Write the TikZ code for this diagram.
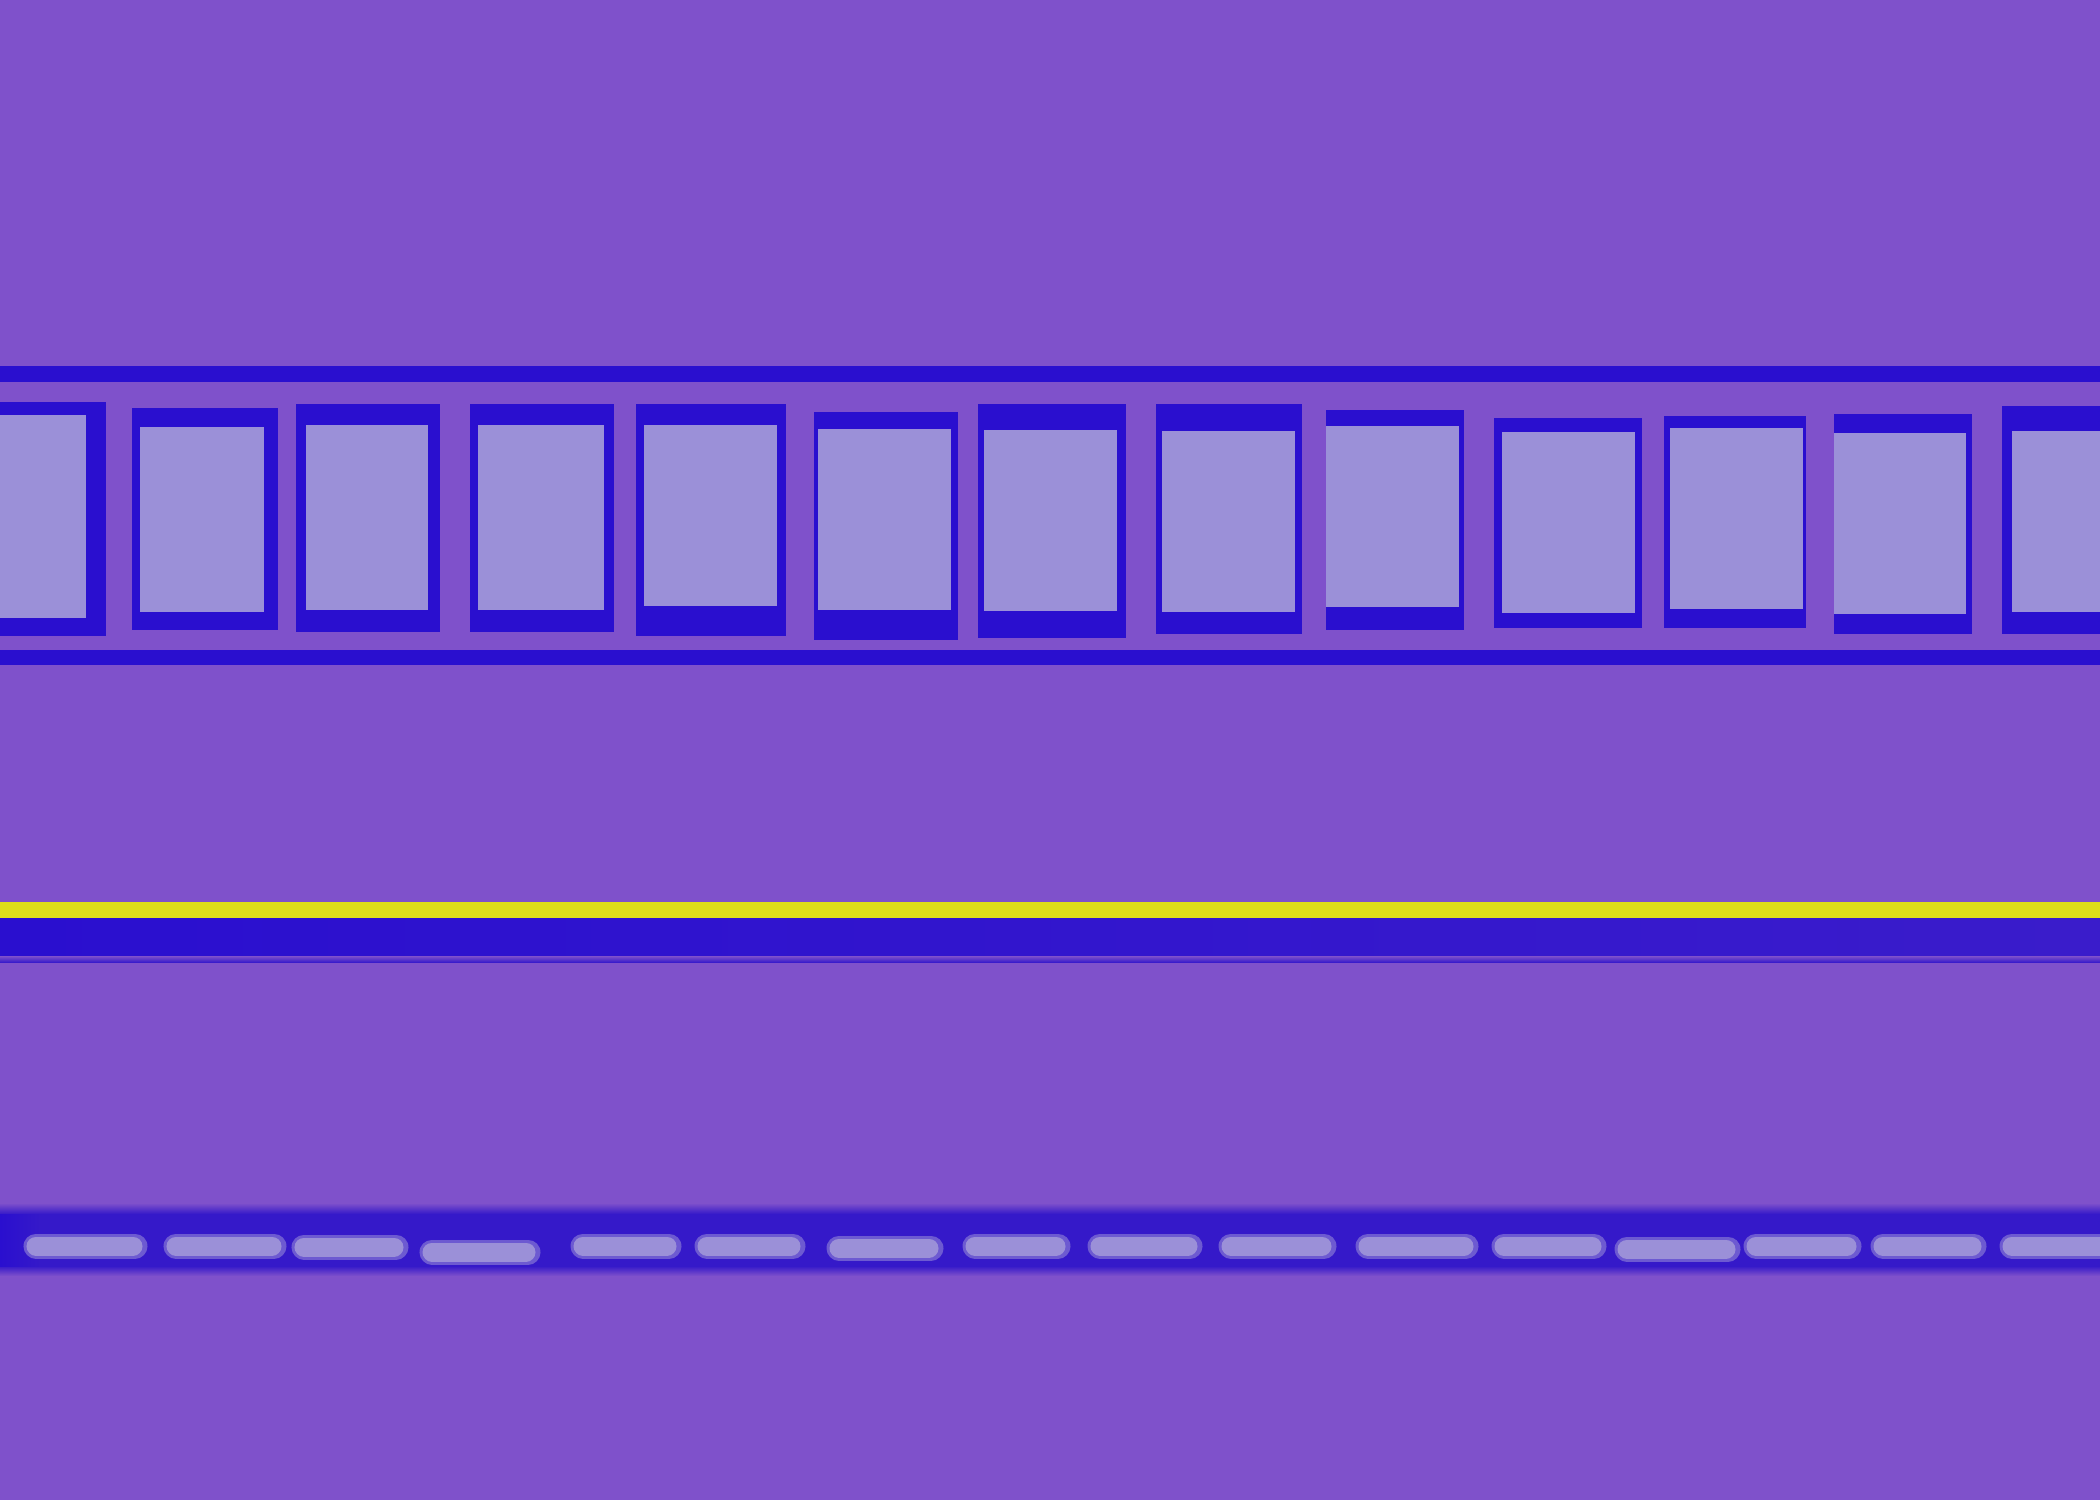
\documentclass[tikz,border=0pt]{standalone}
\definecolor{bg}{HTML}{7F51CB}
\definecolor{dk}{HTML}{2A0FCF}
\definecolor{lt}{HTML}{9B90D8}
\definecolor{yl}{HTML}{DEDE1A}
\definecolor{bandc}{HTML}{3519C9}
\definecolor{bandr}{HTML}{3A1CCB}
\tikzset{
  rail/.style={fill=dk},
  frame/.style={fill=dk},
  pane/.style={fill=lt},
  dashglow/.style={draw=lt!55!bandc, line width=0.25cm, line cap=round},
  dashcore/.style={draw=lt, line width=0.19cm, line cap=round}
}
\begin{document}
\begin{tikzpicture}[x=0.01cm,y=-0.01cm]
\fill[bg] (0,0) rectangle (2100,1500);
\useasboundingbox (0,0) rectangle (2100,1500);
% rails of the film strip
\fill[rail] (0,366) rectangle (2100,382);
\fill[rail] (0,650) rectangle (2100,665);
% frames
\foreach \a/\b/\c/\d/\e/\f/\g/\h in {
  0/402/106/636/0/415/86/618,
  132/408/278/630/140/427/264/612,
  296/404/440/632/306/425/428/610,
  470/404/614/632/478/425/604/610,
  636/404/786/636/644/425/777/606,
  814/412/958/640/818/429/951/610,
  978/404/1126/638/984/430/1117/611,
  1156/404/1302/634/1162/431/1295/612,
  1326/410/1464/630/1326/426/1459/607,
  1494/418/1642/628/1502/432/1635/613,
  1664/416/1806/628/1670/428/1803/609,
  1834/414/1972/634/1834/433/1966/614,
  2002/406/2100/634/2012/431/2100/612}{
  \fill[frame] (\a,\b) rectangle (\c,\d);
  \fill[pane] (\e,\f) rectangle (\g,\h);
}
% yellow line and blue band
\fill[yl] (0,902) rectangle (2100,918);
\shade[left color=dk, right color=bandr] (0,918) rectangle (2100,956);
\shade[top color=bg, bottom color=bandr] (0,962) rectangle (2100,956);
% dashed band
\shade[top color=bg, bottom color=bandc] (0,1203) rectangle (2100,1214);
\fill[bandc] (0,1214) rectangle (2100,1266);
\shade[top color=bandc, bottom color=bg] (0,1266) rectangle (2100,1276);
\shade[left color=dk, right color=bandc] (0,1214) rectangle (40,1266);
\foreach \p/\q/\r in {24/147/1246,164/286/1246,292/408/1247,420/540/1252,
  571/681/1246,695/805/1246,827/943/1248,963/1070/1246,1088/1202/1246,
  1219/1336/1246,1356/1478/1246,1492/1606/1246,1615/1740/1249,
  1744/1861/1246,1871/1986/1246,2000/2120/1246}{
  \draw[dashglow] (\p+12,\r) -- (\q-12,\r);
  \draw[dashcore] (\p+12,\r) -- (\q-14,\r);
}
\end{tikzpicture}
\end{document}
